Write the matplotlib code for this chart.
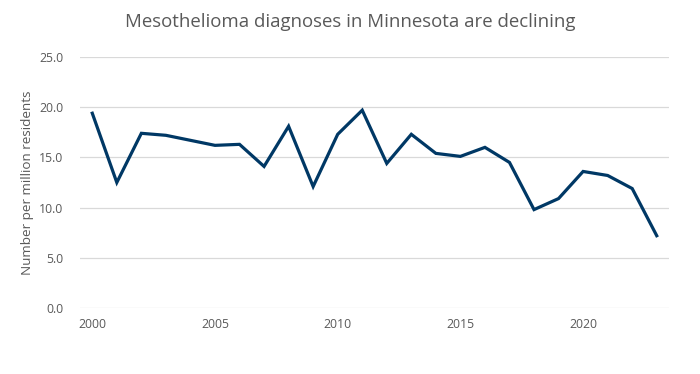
import matplotlib
matplotlib.use("Agg")
import matplotlib.pyplot as plt

years = list(range(2000, 2024))
rates = [19.4, 12.5, 17.4, 17.2, 16.7, 16.2, 16.3, 14.1, 18.1, 12.1, 17.3, 19.7,
         14.4, 17.3, 15.4, 15.1, 16.0, 14.5, 9.8, 10.9, 13.6, 13.2, 11.9, 7.2]
xticks = [2000, 2005, 2010, 2015, 2020]
yticks = [0, 5, 10, 15, 20, 25]

plt.rcParams['font.family'] = ['Open Sans', 'DejaVu Sans']
gray = '#595959'

fig = plt.figure(figsize=(7, 3.74), dpi=100)
ax = fig.add_axes([80/700, 1-308/374, (669-80)/700, (308-57)/374])
ax.plot(years, rates, color='#003865', linewidth=2.3, solid_joinstyle='miter', zorder=3)
ax.set_xlim(1999.5, 2023.5)
ax.set_ylim(0, 25)
ax.set_yticks(yticks)
ax.set_yticklabels([f"{v:.1f}" for v in yticks])
ax.set_xticks(xticks)
ax.set_xticklabels([str(v) for v in xticks])
ax.yaxis.grid(True, color='#d9d9d9', linewidth=0.9)
ax.set_axisbelow(True)
for s in ax.spines.values():
    s.set_visible(False)
ax.tick_params(axis='both', length=0, labelsize=8.8, labelcolor=gray)
ax.tick_params(axis='y', pad=12)
ax.tick_params(axis='x', pad=7)
ax.set_ylabel("Number per million residents", fontsize=9.7, color=gray, labelpad=4)
fig.text(0.5, 1-22/374, "Mesothelioma diagnoses in Minnesota are declining",
         ha='center', va='center', fontsize=13.4, color=gray)
fig.savefig("out.png", dpi=100)
